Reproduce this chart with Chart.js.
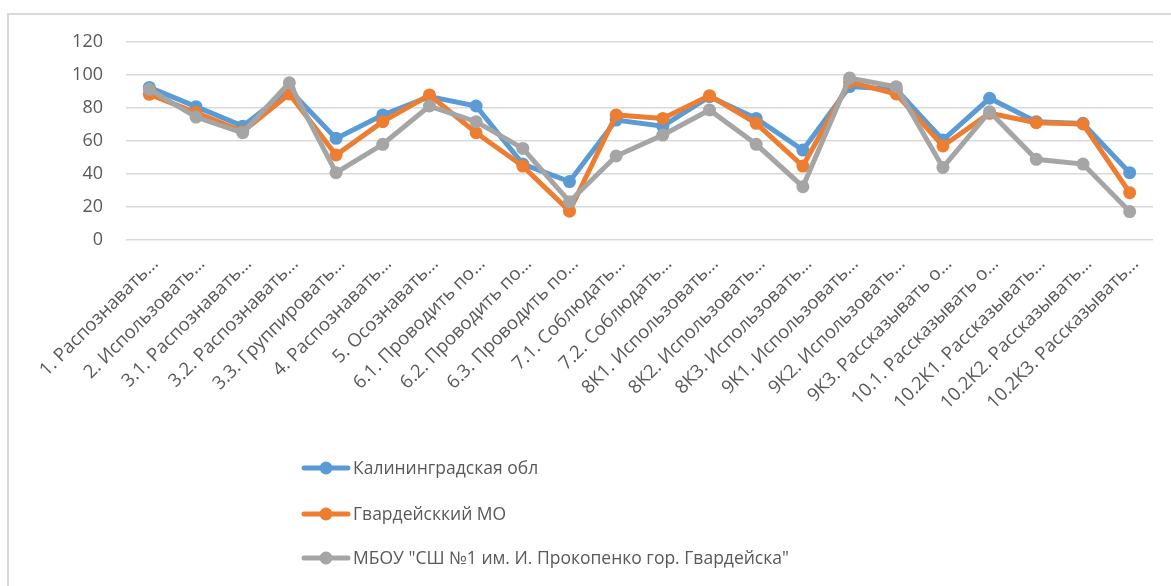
<!DOCTYPE html>
<html>
<head>
<meta charset="utf-8">
<script src="https://cdn.jsdelivr.net/npm/chart.js@4/dist/chart.umd.min.js"></script>
<style>
    body { margin: 0; background: #fff; overflow: hidden; }
    #frame { position: absolute; left: 7px; top: 13px; width: 1200px; height: 620px; border: 2px solid #d9d9d9; }
    #wrap { position: absolute; left: 0; top: 0; width: 1171px; height: 586px; }
</style>
</head>
<body>
<div id="frame"></div>
<div id="wrap"><canvas id="chartContainer"></canvas></div>
<script>
const categories = [
    '1. Распознавать…', '2. Использовать…', '3.1. Распознавать…', '3.2. Распознавать…',
    '3.3. Группировать…', '4. Распознавать…', '5. Осознавать…', '6.1. Проводить по…',
    '6.2. Проводить по…', '6.3. Проводить по…', '7.1. Соблюдать…', '7.2. Соблюдать…',
    '8К1. Использовать…', '8К2. Использовать…', '8К3. Использовать…', '9К1. Использовать…',
    '9К2. Использовать…', '9К3. Рассказывать о…', '10.1. Рассказывать о…', '10.2К1. Рассказывать…',
    '10.2К2. Рассказывать…', '10.2К3. Рассказывать…'
];

const seriesNames = ['Калининградская обл', 'Гвардейсккий МО', 'МБОУ "СШ №1 им. И. Прокопенко гор. Гвардейска"'];

const regionValues = [92.5, 80.8, 69, 91, 61.6, 75.8, 86.9, 81.2, 46, 35.4, 72.7, 69, 86.9, 73.7, 54.5, 93, 91.3, 60.6, 85.9, 71.7, 70.7, 40.8];
const districtValues = [88.3, 77.2, 65.7, 88.5, 51.5, 71.7, 87.9, 65, 44.8, 17.5, 75.8, 73.7, 87.5, 70.7, 44.8, 95.8, 88.5, 57, 76.8, 71.1, 70.3, 28.7];
const schoolValues = [91.3, 74.5, 65, 95.3, 40.8, 58, 81.2, 71.7, 55.5, 23.2, 50.9, 63.6, 78.8, 58, 32.3, 98.2, 92.9, 44, 77.8, 48.9, 46, 17.2];

const yTicks = [0, 20, 40, 60, 80, 100, 120];

const colors = ['#5b9bd5', '#ed7d31', '#a5a5a5'];
const fontFamily = '"Open Sans", "Noto Sans", sans-serif';

// legend drawn as a vertical list under the axis labels
const verticalLegend = {
    id: 'verticalLegend',
    afterDraw(chart) {
        const ctx = chart.ctx;
        const rows = [468, 514, 558];
        ctx.save();
        chart.data.datasets.forEach((ds, i) => {
            const y = rows[i];
            ctx.strokeStyle = ds.borderColor;
            ctx.lineWidth = 5;
            ctx.lineCap = 'round';
            ctx.beginPath();
            ctx.moveTo(304, y);
            ctx.lineTo(348, y);
            ctx.stroke();
            ctx.fillStyle = ds.borderColor;
            ctx.beginPath();
            ctx.arc(326, y, 6.5, 0, Math.PI * 2);
            ctx.fill();
            ctx.fillStyle = '#595959';
            ctx.font = '17.5px ' + fontFamily;
            ctx.textBaseline = 'middle';
            ctx.textAlign = 'left';
            ctx.fillText(ds.label, 353, y + 1);
        });
        ctx.restore();
    }
};

function makeDataset(label, values, color, order) {
    return {
        label: label,
        data: values,
        borderColor: color,
        backgroundColor: color,
        borderWidth: 5,
        pointRadius: 6.5,
        pointHoverRadius: 6.5,
        pointBorderWidth: 0,
        tension: 0,
        fill: false,
        order: order
    };
}

const ctx = document.getElementById('chartContainer');
window.myChart = new Chart(ctx, {
    type: 'line',
    data: {
        labels: categories,
        datasets: [
            makeDataset(seriesNames[0], regionValues, colors[0], 2),
            makeDataset(seriesNames[1], districtValues, colors[1], 1),
            makeDataset(seriesNames[2], schoolValues, colors[2], 0)
        ]
    },
    options: {
        responsive: true,
        maintainAspectRatio: false,
        animation: false,
        layout: { padding: { left: 0, right: 18, top: 42, bottom: 0 } },
        scales: {
            x: {
                offset: true,
                grid: { display: false },
                border: { display: false },
                ticks: {
                    minRotation: 45,
                    maxRotation: 45,
                    autoSkip: false,
                    color: '#595959',
                    font: { family: fontFamily, size: 18.5 },
                    padding: 5,
                    labelOffset: 6
                },
                afterFit(scale) { scale.height = 346; }
            },
            y: {
                min: 0,
                max: 120,
                afterBuildTicks(scale) { scale.ticks = yTicks.map(v => ({ value: v })); },
                grid: { color: '#d9d9d9', lineWidth: 1.5, drawTicks: false },
                border: { display: false },
                ticks: {
                    color: '#595959',
                    font: { family: fontFamily, size: 18 },
                    padding: 23
                },
                afterFit(scale) { scale.width = 126; }
            }
        },
        plugins: {
            legend: { display: false },
            tooltip: { enabled: false }
        }
    },
    plugins: [verticalLegend]
});
</script>
</body>
</html>
